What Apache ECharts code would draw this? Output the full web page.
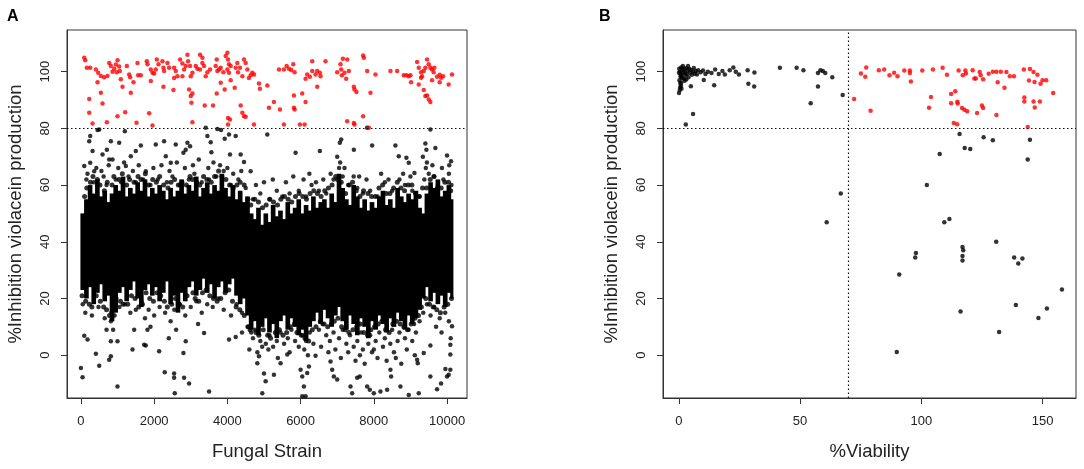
<!DOCTYPE html>
<html>
<head>
<meta charset="utf-8">
<script src="https://cdn.jsdelivr.net/npm/echarts@6/dist/echarts.min.js"></script>
<style>
  html, body { margin: 0; padding: 0; background: #fff; }
  #main { width: 1084px; height: 469px; }
</style>
</head>
<body>
<div id="main"></div>
<script>
// panel A: dense core of the black cloud, read per 100-strain bin (bin start, last bin ends at coreEnd)
var coreStrain = [0,100,200,300,400,500,600,700,800,900,1000,1100,1200,1300,1400,1500,1600,1700,1800,1900,
  2000,2100,2200,2300,2400,2500,2600,2700,2800,2900,3000,3100,3200,3300,3400,3500,3600,3700,3800,3900,
  4000,4100,4200,4300,4400,4500,4600,4700,4800,4900,5000,5100,5200,5300,5400,5500,5600,5700,5800,5900,
  6000,6100,6200,6300,6400,6500,6600,6700,6800,6900,7000,7100,7200,7300,7400,7500,7600,7700,7800,7900,
  8000,8100,8200,8300,8400,8500,8600,8700,8800,8900,9000,9100,9200,9300,9400,9500,9600,9700,9800,9900,
  10000,10100];
var coreEnd = 10160;
var coreLow = [23,20,24,18,22,25,19,21,12,15,22,24,19,23,26,20,17,23,25,21,
  24,19,22,26,18,21,15,22,19,24,26,21,23,27,22,25,20,24,26,22,
  25,27,21,18,20,14,9,12,7,10,13,8,11,6,12,14,9,13,10,7,
  9,5,10,12,15,11,16,13,10,14,17,12,9,14,11,7,13,10,6,12,
  9,14,11,8,13,10,15,12,9,14,11,13,16,20,24,19,22,18,21,17,
  22,20];
var coreHigh = [50,55,60,57,62,56,58,54,57,60,58,63,56,59,57,61,58,62,56,59,
  57,60,58,55,59,56,58,62,57,60,58,63,56,59,61,57,60,58,64,59,
  56,60,55,58,54,56,50,48,52,46,50,47,53,49,51,48,54,50,52,55,
  50,53,51,56,52,54,55,52,57,54,64,59,55,53,60,56,52,55,51,54,
  52,56,58,53,55,52,59,56,54,57,55,58,52,50,57,61,59,62,56,58,
  60,55];

// panel A: ragged edge of the core [strain, %inhibition]
var strainEdge = [
  [100,56],[160,59],[260,61],[330,63],[450,62],[520,60],[640,58],[720,61],[850,60],[900,63],[1040,62],[1130,64],
  [1250,60],[1330,62],[1450,61],[1560,63],[1640,62],[1760,64],[1850,60],[1960,62],[2060,61],[2150,63],[2260,60],
  [2380,59],[2460,61],[2560,62],[2660,60],[2760,61],[2880,60],[2980,63],[3050,62],[3160,61],[3250,60],[3350,63],
  [3440,62],[3560,61],[3650,63],[3760,65],[3850,63],[3960,62],[4060,60],[4160,59],[4260,60],[4350,61],[4460,60],
  [4560,55],[4640,53],[4750,55],[4850,54],[4960,52],[5060,53],[5160,55],[5260,54],[5370,53],[5460,55],[5560,56],
  [5660,55],[5760,54],[5860,56],[5960,57],[6060,56],[6160,55],[6260,57],[6360,58],[6460,57],[6560,56],[6660,58],
  [6760,59],[6860,60],[6960,63],[7010,62],[7110,61],[7230,57],[7330,60],[7420,61],[7520,58],[7620,56],[7720,58],
  [7840,57],[7940,56],[8040,56],[8140,59],[8240,60],[8340,57],[8440,57],[8540,59],[8640,61],[8740,59],[8840,58],
  [8940,60],[9040,60],[9140,57],[9240,56],[9330,59],[9440,59],[9540,62],[9640,63],[9740,59],[9840,59],[9940,61],
  [10040,61],[10100,58],
  [30,21],[130,19],[230,18],[300,17],[420,21],[530,19],[620,17],[700,16],[780,14],[840,15],[960,20],[1080,19],
  [1150,18],[1280,18],[1380,21],[1480,20],[1580,17],[1680,18],[1780,22],[1880,20],[1980,19],[2080,22],[2180,21],
  [2280,19],[2360,17],[2480,18],[2580,20],[2680,18],[2780,17],[2900,21],[3060,22],[3120,20],[3220,19],[3320,22],
  [3420,23],[3520,21],[3620,20],[3720,19],[3820,20],[3940,22],[4040,23],[4140,19],[4240,17],[4340,16],[4460,14],
  [4580,10],[4620,9],[4780,8],[4860,7],[4980,9],[5100,7],[5180,6],[5310,8],[5420,9],[5520,7],[5620,8],[5720,10],
  [5830,11],[5900,8],[6020,7],[6120,6],[6220,5],[6320,9],[6420,10],[6540,12],[6640,11],[6740,10],[6840,11],
  [6920,12],[7020,13],[7120,10],[7220,9],[7320,8],[7430,9],[7530,10],[7630,11],[7730,8],[7830,7],[7920,9],
  [8020,10],[8120,11],[8220,12],[8320,9],[8420,8],[8520,11],[8620,12],[8720,11],[8820,10],[8920,9],[9020,11],
  [9120,13],[9220,14],[9300,17],[9420,20],[9520,18],[9620,17],[9720,16],[9820,15],[9920,17],[10020,18],[10120,20]
];

// panel A: scattered black strains away from the core [strain, %inhibition]
var strainBlack = [
  [91,66.7],[227,75.5],[254,77.3],[318,72],[454,79.4],[500,79.6],[254,67.9],[363,64.9],[590,70.8],[709,72.5],
  [772,69],[863,69],[818,75.5],[1045,74.9],[1200,79],[1227,66.7],[1363,70.2],[1500,72],[1636,74],[1772,64.9],
  [2045,74.3],[2272,75.5],[2318,70.2],[2454,67.9],[2590,74.3],[2800,71.4],[2863,72.5],[2909,74.9],[2981,73.7],
  [3409,80.2],[3454,77.3],[3545,75.1],[3563,71.6],[3727,79.8],[3827,79.4],[3927,76.3],[4045,77.8],[4072,70.8],
  [4227,77.3],[4363,70.8],[4454,68.1],[4636,64.9],[5090,77.8],[5863,71.4],[6527,72],[7072,74.9],[7109,76.1],
  [7454,72.5],[7818,80.2],[7954,74],[8590,74],[8681,70.2],[8890,69.6],[8954,67.9],[9109,64.3],[9408,74.7],
  [9436,72.5],[9545,79.6],[9681,73.1],[10000,70.4],[10109,68.4],
  [150,62],[350,61],[620,63],[700,60],[950,62],[1100,61],[1300,63],[1500,61],[1700,62],[1900,60],[2100,62],
  [2350,61],[2500,63],[2700,60],[2950,62],[3100,64],[3300,61],[3500,62],[3700,63],[3900,65],[4100,60],[4300,62],
  [4500,59],[4700,55],[4900,57],[5150,55],[5350,58],[5500,56],[5700,57],[5950,58],[6150,56],[6300,60],[6500,58],
  [6700,57],[6900,62],[7050,66],[7080,68],[7150,63],[7300,60],[7450,63],[7550,59],[7700,57],[7900,58],[8100,56],
  [8300,61],[8500,58],[8700,62],[8850,60],[9050,58],[9250,56],[9380,62],[9420,66],[9450,68],[9500,64],[9650,63],
  [9750,60],[9900,62],[10050,64],[10120,60],
  [180,64],[420,66],[560,65],[760,67],[1020,66],[1180,68],[1420,65],[1580,67],[1980,66],[2200,67],[2420,65],
  [2620,68],[2840,66],[3060,67],[3220,69],[3480,66],[3620,68],[3800,67],[4000,66],[4160,64],[4380,65],[4780,60],
  [5000,61],[5240,62],[5600,61],[5800,63],[6080,62],[6240,64],[6420,61],[6620,62],[6820,64],[7000,70],[7200,66],
  [7600,63],[7800,62],[8200,64],[8400,62],[8800,64],[9000,63],[9340,70],[9600,67],[9860,66],[10060,67],
  [50,18],[120,15],[300,14],[480,17],[650,13],[820,12],[880,9],[920,14],[1050,17],[1200,18],[1350,15],[1500,16],
  [1650,19],[1750,13],[1850,16],[2000,14],[2150,17],[2300,15],[2450,12],[2550,16],[2600,9],[2700,18],[2850,14],
  [3000,17],[3150,19],[3300,15],[3450,18],[3600,17],[3750,20],[3900,16],[4100,14],[4250,18],[4400,15],[4550,10],
  [4650,8],[4700,6],[4750,9],[4900,5],[4950,3],[5050,4],[5150,7],[5250,3],[5350,5],[5450,8],[5550,4],[5650,6],
  [5750,9],[5850,5],[5950,3],[6050,7],[6100,2],[6150,5],[6250,8],[6350,4],[6500,9],[6600,11],[6700,7],[6800,5],
  [6900,8],[6950,2],[7050,6],[7150,9],[7250,4],[7300,1],[7350,7],[7450,3],[7500,-2],[7550,5],[7650,8],[7700,2],
  [7750,-3],[7850,4],[7900,7],[7950,1],[8050,5],[8100,-1],[8150,8],[8250,3],[8300,6],[8350,-2],[8450,4],[8500,9],
  [8550,1],[8650,5],[8700,8],[8750,-3],[8850,6],[8950,9],[9050,5],[9100,11],[9150,8],[9250,12],[9350,15],[9450,18],
  [9550,14],[9650,17],[9700,10],[9800,13],[9850,8],[9950,15],[10050,12],[10100,6],
  [4600,2],[4820,1],[5120,2],[5380,-1],[5700,1],[6200,0],[6560,3],[6760,1],[7100,-1],[7620,0],[8000,2],[8600,-1],
  [8900,2],[9120,0],[4400,8],[3200,11],[1900,10],[700,9],[2400,6],
  [0,-4.5],[45,-7.8],[91,6.9],[181,5.5],[409,0.5],[500,-3.7],[772,-1.6],[818,-0.4],[818,4.9],[999,-11],[999,4.9],
  [1409,2],[1454,9],[1727,3.7],[1772,3.4],[1818,9],[2136,1.4],[2290,-6],[2545,-6.5],[2545,-8],[2563,-13.4],
  [2818,-8],[2954,-10],[2800,0.8],[2863,4.9],[3363,7.8],[3500,-12.8],[4045,5.5],[4227,6.4],[4863,-0.4],[4818,-2.8],
  [4954,-13.4],[5045,-9.2],[5000,-6.5],[5272,-6.9],[5454,-2.8],[5636,0.2],[6000,-5.1],[6045,-7.5],[6090,-11],
  [6045,-14.5],[6136,-14.5],[6181,-6.3],[6227,-4],[6409,-0.2],[6818,-2.2],[6863,-5.1],[6908,-7.5],[7000,-8.6],
  [7363,-11],[7408,-13.4],[7545,-8],[7617,-7.5],[7818,-11],[7890,-12.2],[8000,-13.4],[8181,-12.8],[8363,-12.2],
  [8454,-5.1],[8472,-7.5],[8727,-11],[8954,-14],[9227,-13.4],[9182,-1.6],[9200,-2.8],[9363,0.8],[9545,3.4],
  [9545,-7.5],[9727,-12],[9836,-10],[9954,-4.9],[10000,-7.5],[10045,-6.9],[10090,-5.1],[10090,0.2],[10090,3.7],
  [10136,10.2]
];

// panel A: strains above 80 % inhibition
var strainRed = [
  [91,104.9],[118,104],[163,101.4],[254,101.4],[227,90.4],[227,85.5],[318,81.7],[409,100.8],[472,99.6],[454,96.3],
  [545,92.6],[590,88.8],[545,98.5],[636,98],[727,98.5],[709,82.2],[772,103.1],[818,102],[863,100],[909,101],
  [954,102.5],[1000,104],[1045,101.8],[981,99.8],[1063,100.2],[1090,97.3],[1136,94.7],[999,84.3],[1209,85.7],
  [1254,102],[1318,99],[1345,98],[1363,92.6],[1436,96.3],[1518,82],[1545,103.1],[1563,98.7],[1636,98.7],
  [1800,103.7],[1818,102.6],[1863,85.3],[1909,96.7],[1954,81],[1909,100.8],[1954,99.6],[2000,99.4],[2045,100.8],
  [2072,104.3],[2118,102.6],[2227,103.7],[2254,101.4],[2272,100.2],[2254,94.7],[2363,103.1],[2409,101.4],
  [2527,93.5],[2545,101.4],[2590,100.2],[2636,98.4],[2545,97.8],[2709,104.3],[2772,102.9],[2818,100.8],
  [2772,98.4],[2863,102],[2909,106],[2927,103.7],[2981,102],[3000,98.4],[3045,99.6],[2954,93.7],[3045,92.3],
  [3000,91.4],[3045,82.2],[3018,89],[3136,102],[3181,101],[3254,100.8],[3254,106],[3318,104.9],[3318,103.1],
  [3363,102],[3381,88.1],[3409,98.4],[3454,99.8],[3527,100.8],[3609,88.1],[3681,102],[3709,104.3],[3727,100.2],
  [3772,100.8],[3818,101.4],[3891,99.8],[3709,92.3],[3818,96.1],[3927,93.7],[3954,105.5],[4000,106.7],
  [4018,104.3],[4045,102.6],[4000,100.8],[4045,99.6],[4090,102],[4018,83.7],[4072,83.1],[4018,81.4],[4090,97],
  [4200,94.3],[4227,101.4],[4272,103.1],[4290,99.8],[4345,101.4],[4409,98.4],[4454,104.3],[4500,103.1],
  [4363,88.1],[4409,85.5],[4454,84.3],[4500,84.1],[4545,100.8],[4590,97.8],[4636,98.7],[4681,99.6],[4727,99],
  [4727,81.4],[4863,95.8],[4890,94],[5090,95.1],[5136,87.3],[5272,89.3],[5436,86.7],[5409,100.8],[5545,81.4],
  [5545,100.8],[5618,102],[5681,101],[5745,100.6],[5800,102.6],[5836,99.8],[5818,87.3],[5836,86.7],[5818,91.6],
  [5981,81.4],[6109,81.4],[6045,92.3],[6136,89.3],[6136,97.5],[6181,99],[6254,98.2],[6318,100.2],[6318,103.7],
  [6409,99],[6454,100.2],[6454,94.7],[6527,99.6],[6545,98.4],[6681,103.7],[7000,99.8],[7090,102.6],[7109,100.8],
  [7127,98.7],[7154,104.6],[7200,99.6],[7245,97.5],[7272,104.3],[7318,100.2],[7272,82.5],[7454,81.9],[7472,81.4],
  [7454,94.7],[7472,93.7],[7526,92.8],[7708,105.7],[7727,104.9],[7708,84.3],[7818,100.2],[7909,92.6],[7863,80.2],
  [8045,99],[8454,100.2],[8636,100.2],[8818,98.7],[8890,98.7],[8954,98.4],[9000,98.7],[9018,96.3],[9182,103.4],
  [9227,101.4],[9290,99.8],[9318,98.4],[9363,100.2],[9408,101.4],[9454,104.3],[9500,102.6],[9545,101.4],
  [9590,100.8],[9636,99.8],[9654,101.4],[9227,95.5],[9290,97.9],[9363,93.5],[9408,91.4],[9454,91.6],[9545,89.3],
  [9500,90.2],[9590,97],[9727,98.2],[9800,98.9],[9836,97.9],[9800,96.3],[9890,98.4],[10045,95.5],[10136,99]
];

// panel B: black = below cut-offs, red = >80 % inhibition and >70 % viability  [viability, inhibition]
var viabBlack = [
  [0.2,101],[0.5,100],[0.8,99],[1,101.5],[1.2,98.5],[1.5,100.5],[1.8,99.5],[2,101],[2.2,97.5],[2.5,100],
  [2.8,98.8],[3,101.2],[3.3,99.2],[3.6,100.4],[4,98],[4.3,101],[4.6,99.6],[5,100.6],[5.4,98.9],[5.8,100],
  [6.2,101.3],[6.6,99.3],[7,100.2],[7.5,99],[8,100.5],[0.3,97],[0.6,96],[0.9,95],[1.1,94],[0.4,93.5],[1.4,97.8],
  [0.7,98.2],[2.4,96.8],[3.1,97.2],[1.7,102],[3.8,102],[0.1,99.6],[9,99.8],[10,100.4],[11,99.2],[12,100],
  [13.5,99.5],[15,100.8],[16.5,99.2],[18,100.2],[0.1,92.5],[2.9,81.4],[5.9,85.1],[5,94.9],[0.6,94.5],[1,96],
  [10.3,97.1],[14.6,95.2],[19,99],[21,100.5],[22.5,101.5],[23.5,100],[24.8,99],[28.4,100.5],[28.7,95.7],
  [31.2,99.7],[31.1,94.8],[41.7,101.4],[48.6,101.4],[51.4,100.5],[54.4,88.9],[57.4,94.8],[57.4,99.5],
  [58.4,100.5],[59.4,100.2],[60.4,99.5],[63.3,98],[67.6,91.8],[66.8,57],[61,46.9],
  [115.8,78],[117.9,73.1],[120.2,72.7],[125.7,76.9],[129.5,75.8],[107.6,71],[102.3,60],[144.8,76],[143.9,69],
  [109.5,46.9],[111.6,48],[90.9,28.5],[89.9,1.1],[97.5,34.5],[97.8,36],[116.2,15.4],[117,38.2],[117.3,37],
  [117,35],[117,33.4],[130.9,40],[132.1,8.2],[138.3,34.5],[140,32.3],[141.7,34.1],[139,17.7],[148.3,13.1],
  [151.8,16.5],[158,23.2]
];
var viabRed = [
  [72.3,90.4],[75.1,99.4],[76.9,98.2],[77.3,101.5],[79.1,86.2],[82.5,100.5],[84.7,100.8],[86.9,98.7],[88.8,99.6],
  [90.2,98.4],[93,100.4],[95.3,100.4],[95.3,99.5],[95.7,96.5],[100.4,100.4],[104.8,100.8],[108.8,101.4],
  [110.6,98.9],[103.2,87.3],[104,91.1],[112.3,92.1],[114,93.1],[112.3,88.9],[114.9,89.4],[115,88.8],[116.8,87.2],
  [117.8,86.6],[118.9,86],[113.4,81.9],[114.8,81.5],[115.4,100.4],[117.1,98.7],[118.2,100.4],[118.4,99.4],
  [121.2,100.5],[121.9,97.6],[122.5,97.6],[124.1,99.9],[124.5,98.7],[125.5,97.3],[123,85.4],[125,88.1],
  [125.5,87.2],[127.8,99.3],[129.5,100],[131,100],[132.8,100],[131.5,96.3],[131,84.7],[134.3,94.3],[135.1,99.9],
  [136.5,98.4],[138.2,98.4],[142.3,100.8],[142.5,90.9],[142.5,89.5],[143.9,80.5],[144.8,100.9],[144.4,96.9],
  [146.3,99.9],[146.7,96.4],[146.3,89.5],[146.8,87.4],[147.9,98.9],[149.2,95.7],[148.9,89.5],[150,97],
  [151.5,97],[154.4,92.5]
];

var inhibTicks = [0, 20, 40, 60, 80, 100];
var strainTicks = [0, 2000, 4000, 6000, 8000, 10000];
var viabTicks = [0, 50, 100, 150];

// one column per bin: [from, to, low, high]
var coreColumns = coreStrain.map(function (s, i) {
  var to = i < coreStrain.length - 1 ? coreStrain[i + 1] : coreEnd;
  return [s, to, coreLow[i], coreHigh[i]];
});

var font = 'Liberation Sans, Arial, sans-serif';
var ink = '#222';
var dotted = { type: [1.5, 2.5], color: '#111', width: 1.2 };

function xAxisOf(gridIndex, min, max, ticks, name) {
  return {
    type: 'value', gridIndex: gridIndex, min: min, max: max,
    name: name, nameLocation: 'middle', nameGap: 44,
    nameTextStyle: { fontFamily: font, fontSize: 18.5, color: ink },
    axisLine: { show: true, onZero: false, lineStyle: { color: '#333', width: 1 } },
    axisTick: { show: true, length: 6, lineStyle: { color: '#333' }, customValues: ticks },
    axisLabel: { show: true, margin: 17, fontFamily: font, fontSize: 13, color: ink, customValues: ticks,
      formatter: function (v) { return String(v); } },
    splitLine: { show: false }
  };
}
function yAxisOf(gridIndex) {
  return {
    type: 'value', gridIndex: gridIndex, min: -15.1, max: 114.7,
    name: '%Inhibition violacein production', nameLocation: 'middle', nameRotate: 90, nameGap: 42,
    nameTextStyle: { fontFamily: font, fontSize: 18.5, color: ink },
    axisLine: { show: true, onZero: false, lineStyle: { color: '#333', width: 1 } },
    axisTick: { show: true, length: 6, lineStyle: { color: '#333' }, customValues: inhibTicks },
    axisLabel: { show: true, rotate: 90, margin: 15, fontFamily: font, fontSize: 13, color: ink, customValues: inhibTicks,
      formatter: function (v) { return String(v); } },
    splitLine: { show: false }
  };
}

var chart = echarts.init(document.getElementById('main'), null, { renderer: 'canvas' });
chart.setOption({
  animation: false,
  backgroundColor: '#fff',
  title: [
    { text: 'A', left: 2, top: 4, textStyle: { fontFamily: font, fontSize: 16, fontWeight: 'bold', color: '#000' } },
    { text: 'B', left: 594, top: 4, textStyle: { fontFamily: font, fontSize: 16, fontWeight: 'bold', color: '#000' } }
  ],
  grid: [
    { left: 67, top: 30, width: 400, height: 368, show: true, borderColor: '#333', borderWidth: 1, backgroundColor: 'transparent' },
    { left: 663, top: 30, width: 413, height: 368, show: true, borderColor: '#333', borderWidth: 1, backgroundColor: 'transparent' }
  ],
  xAxis: [
    xAxisOf(0, -380, 10545, strainTicks, 'Fungal Strain'),
    xAxisOf(1, -6.5, 163.8, viabTicks, '%Viability')
  ],
  yAxis: [yAxisOf(0), yAxisOf(1)],
  series: [
    {
      type: 'custom', xAxisIndex: 0, yAxisIndex: 0, data: coreColumns, silent: true, z: 1, clip: true,
      renderItem: function (params, api) {
        var a = api.coord([api.value(0), api.value(3)]);
        var b = api.coord([api.value(1), api.value(2)]);
        return {
          type: 'rect',
          shape: { x: a[0] - 0.5, y: a[1], width: b[0] - a[0] + 1, height: b[1] - a[1] },
          style: { fill: '#000' }
        };
      }
    },
    {
      type: 'scatter', xAxisIndex: 0, yAxisIndex: 0, data: strainEdge,
      symbolSize: 5, itemStyle: { color: '#000' }, z: 2
    },
    {
      type: 'scatter', xAxisIndex: 0, yAxisIndex: 0, data: strainBlack,
      symbolSize: 4.5, itemStyle: { color: '#000' }, z: 2,
      markLine: { silent: true, symbol: 'none', label: { show: false }, lineStyle: dotted, data: [{ yAxis: 80 }] }
    },
    {
      type: 'scatter', xAxisIndex: 0, yAxisIndex: 0, data: strainRed,
      symbolSize: 4.5, itemStyle: { color: '#ff0000' }, z: 3
    },
    {
      type: 'scatter', xAxisIndex: 1, yAxisIndex: 1, data: viabBlack,
      symbolSize: 4.5, itemStyle: { color: '#000' }, z: 2,
      markLine: { silent: true, symbol: 'none', label: { show: false }, lineStyle: dotted,
        data: [{ yAxis: 80 }, { xAxis: 70 }] }
    },
    {
      type: 'scatter', xAxisIndex: 1, yAxisIndex: 1, data: viabRed,
      symbolSize: 4.5, itemStyle: { color: '#ff0000' }, z: 3
    }
  ]
});
</script>
</body>
</html>
